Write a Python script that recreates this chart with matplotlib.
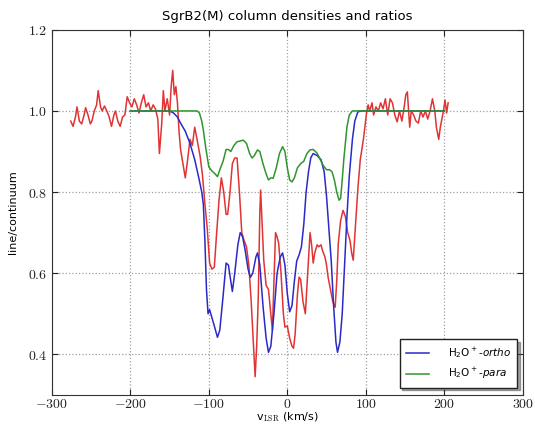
import matplotlib
matplotlib.use("Agg")
import matplotlib.pyplot as plt
from matplotlib.font_manager import FontProperties
from matplotlib.ticker import FuncFormatter

# model profiles (v_LSR in km/s, line/continuum)
ortho_v = [-200, -160, -150, -145, -140, -136, -130, -124, -118, -113, -109, -107, -105,
           -103, -101, -99, -96, -93, -89, -86, -82, -78, -75, -72, -70, -67, -63, -60,
           -57, -54, -50, -47, -44, -40, -38, -35, -31, -27, -24, -21, -17, -13, -9, -6,
           -3, 0, 3, 6, 9, 12, 15, 18, 21, 24, 27, 30, 33, 38, 43, 47, 50, 53, 56, 59,
           62, 64, 67, 70, 73, 76, 79, 83, 86, 90, 95, 200]
ortho_y = [1.0, 1.0, 1.0, 0.995, 0.985, 0.97, 0.95, 0.92, 0.88, 0.837, 0.80, 0.77, 0.68,
           0.56, 0.50, 0.51, 0.49, 0.47, 0.442, 0.46, 0.54, 0.625, 0.62, 0.58, 0.555, 0.60,
           0.67, 0.70, 0.69, 0.66, 0.61, 0.59, 0.60, 0.64, 0.65, 0.62, 0.52, 0.44, 0.405,
           0.42, 0.50, 0.60, 0.64, 0.65, 0.62, 0.55, 0.505, 0.52, 0.58, 0.63, 0.645, 0.665,
           0.72, 0.80, 0.85, 0.885, 0.895, 0.89, 0.88, 0.85, 0.79, 0.71, 0.63, 0.52, 0.43,
           0.405, 0.43, 0.50, 0.62, 0.74, 0.84, 0.93, 0.975, 0.998, 1.0, 1.0]

para_v = [-200, -115, -112, -109, -107, -104, -100, -96, -92, -89, -86, -82, -78, -75,
          -72, -68, -64, -60, -56, -52, -48, -45, -42, -38, -35, -31, -27, -24, -21, -18,
          -14, -10, -6, -3, 0, 3, 6, 9, 13, 17, 21, 25, 29, 33, 38, 42, 46, 50, 54, 57,
          60, 63, 66, 68, 70, 72, 74, 76, 79, 83, 200]
para_y = [1.0, 1.0, 0.995, 0.975, 0.953, 0.91, 0.862, 0.852, 0.845, 0.838, 0.855, 0.875,
          0.905, 0.905, 0.90, 0.915, 0.924, 0.926, 0.928, 0.92, 0.895, 0.884, 0.89, 0.904,
          0.90, 0.87, 0.845, 0.83, 0.835, 0.834, 0.86, 0.895, 0.912, 0.90, 0.86, 0.83,
          0.825, 0.835, 0.86, 0.87, 0.876, 0.895, 0.904, 0.905, 0.896, 0.88, 0.865, 0.855,
          0.855, 0.85, 0.83, 0.80, 0.78, 0.785, 0.83, 0.88, 0.92, 0.96, 0.99, 1.0, 1.0]

# observed spectrum
obs_v = [-276, -273, -270, -268, -265, -262, -259, -257, -254, -251, -249, -246, -243,
         -241, -238, -236, -233, -230, -227, -224, -221, -219, -216, -213, -210, -207,
         -204, -201, -198, -195, -192, -189, -186, -183, -180, -177, -174, -171, -168,
         -165, -163, -160, -158, -156, -153, -150, -148, -146, -144, -142, -140, -138,
         -136, -133, -130, -127, -124, -121, -118, -115, -111, -108, -105, -102, -99,
         -96, -93, -90, -87, -84, -81, -78, -76, -73, -70, -67, -64, -61, -58, -55, -52,
         -49, -46, -43, -41, -39, -37, -35, -34, -32, -30, -27, -24, -21, -19, -17, -15,
         -13, -11, -8, -5, -3, 0, 3, 6, 8, 10, 13, 15, 17, 20, 23, 26, 29, 31, 33, 35,
         38, 40, 43, 45, 48, 50, 52, 55, 58, 61, 63, 65, 68, 71, 74, 77, 80, 82, 84, 87,
         90, 93, 97, 101, 103, 105, 108, 110, 113, 116, 119, 122, 125, 128, 131, 134,
         137, 140, 143, 146, 149, 151, 153, 156, 158, 161, 164, 167, 170, 173, 176, 179,
         182, 185, 188, 190, 193, 195, 197, 199, 201, 203, 205]
obs_y = [0.975, 0.962, 0.985, 1.01, 0.975, 0.968, 0.99, 1.008, 0.99, 0.968, 0.975, 1.0,
         1.015, 1.05, 1.01, 1.0, 1.012, 1.0, 0.985, 0.962, 0.99, 1.0, 0.975, 0.962, 0.985,
         0.99, 1.035, 1.02, 1.01, 1.03, 1.015, 0.995, 1.02, 1.04, 1.01, 1.02, 1.0, 1.015,
         1.005, 0.98, 0.895, 0.97, 1.05, 1.0, 1.03, 0.99, 1.06, 1.10, 1.04, 1.06, 1.02,
         0.95, 0.905, 0.87, 0.835, 0.88, 0.93, 0.915, 0.96, 0.93, 0.887, 0.84, 0.77, 0.71,
         0.625, 0.61, 0.615, 0.70, 0.78, 0.835, 0.80, 0.745, 0.745, 0.80, 0.87, 0.884,
         0.884, 0.80, 0.70, 0.68, 0.665, 0.62, 0.53, 0.42, 0.345, 0.42, 0.54, 0.75, 0.805,
         0.72, 0.632, 0.57, 0.56, 0.50, 0.459, 0.58, 0.70, 0.69, 0.674, 0.60, 0.50, 0.467,
         0.47, 0.44, 0.42, 0.415, 0.45, 0.55, 0.59, 0.585, 0.53, 0.50, 0.60, 0.70, 0.67,
         0.625, 0.65, 0.67, 0.665, 0.67, 0.655, 0.64, 0.62, 0.59, 0.56, 0.53, 0.516, 0.58,
         0.674, 0.73, 0.755, 0.74, 0.70, 0.68, 0.65, 0.632, 0.72, 0.81, 0.88, 0.93, 0.995,
         1.015, 1.0, 1.02, 0.99, 1.01, 1.0, 1.02, 1.005, 1.03, 0.99, 1.03, 1.02, 0.99,
         0.973, 1.0, 0.975, 1.01, 1.04, 1.047, 0.96, 1.0, 0.99, 0.975, 0.97, 1.0, 0.985,
         1.0, 0.98, 1.0, 1.03, 1.0, 0.96, 0.93, 0.96, 0.98, 1.0, 1.027, 0.995, 1.02]

xticks = [-300, -200, -100, 0, 100, 200, 300]
yticks = [0.4, 0.6, 0.8, 1.0, 1.2]

plt.rcParams["mathtext.fontset"] = "cm"

fig = plt.figure(figsize=(5.35, 4.26), dpi=100)
ax = fig.add_axes([0.097, 0.073, 0.880, 0.857])

ax.plot(obs_v, obs_y, color="#e03434", lw=1.1)
ax.plot(ortho_v, ortho_y, color="#2a2ac8", lw=1.1, label=r"H$_2$O$^+$-$\mathit{ortho}$")
ax.plot(para_v, para_y, color="#2f962f", lw=1.1, label=r"H$_2$O$^+$-$\mathit{para}$")

ax.set_xlim(-300, 300)
ax.set_ylim(0.3, 1.2)
ax.set_xticks(xticks)
ax.set_yticks(yticks)
ax.xaxis.set_major_formatter(FuncFormatter(lambda v, p: r"$%d$" % v))
ax.yaxis.set_major_formatter(FuncFormatter(lambda v, p: r"$%.1f$" % v))
ax.tick_params(direction="in", top=True, right=True, labelsize=10, length=4,
               colors="#222222")
ax.tick_params(axis="x", pad=1.5)
ax.grid(True, ls=":", color="#a0a0a0", lw=0.9)
for s in ax.spines.values():
    s.set_color("#333333")

ax.set_title("SgrB2(M) column densities and ratios", fontsize=9.5, pad=7)
ax.set_xlabel(r"v$_{\rm LSR}$ (km/s)", fontsize=8, labelpad=-0.5)
ax.set_ylabel("line/continuum", fontsize=8, labelpad=7)

prop = FontProperties(size=7.5, math_fontfamily="dejavusans")
leg = ax.legend(loc="lower right", bbox_to_anchor=(0.988, 0.02), borderaxespad=0,
                prop=prop, shadow=True, fancybox=False, handlelength=2.2,
                handletextpad=1.8, borderpad=0.6, labelspacing=0.6)
leg.get_frame().set_edgecolor("#222222")

fig.savefig("out.png", dpi=100)
